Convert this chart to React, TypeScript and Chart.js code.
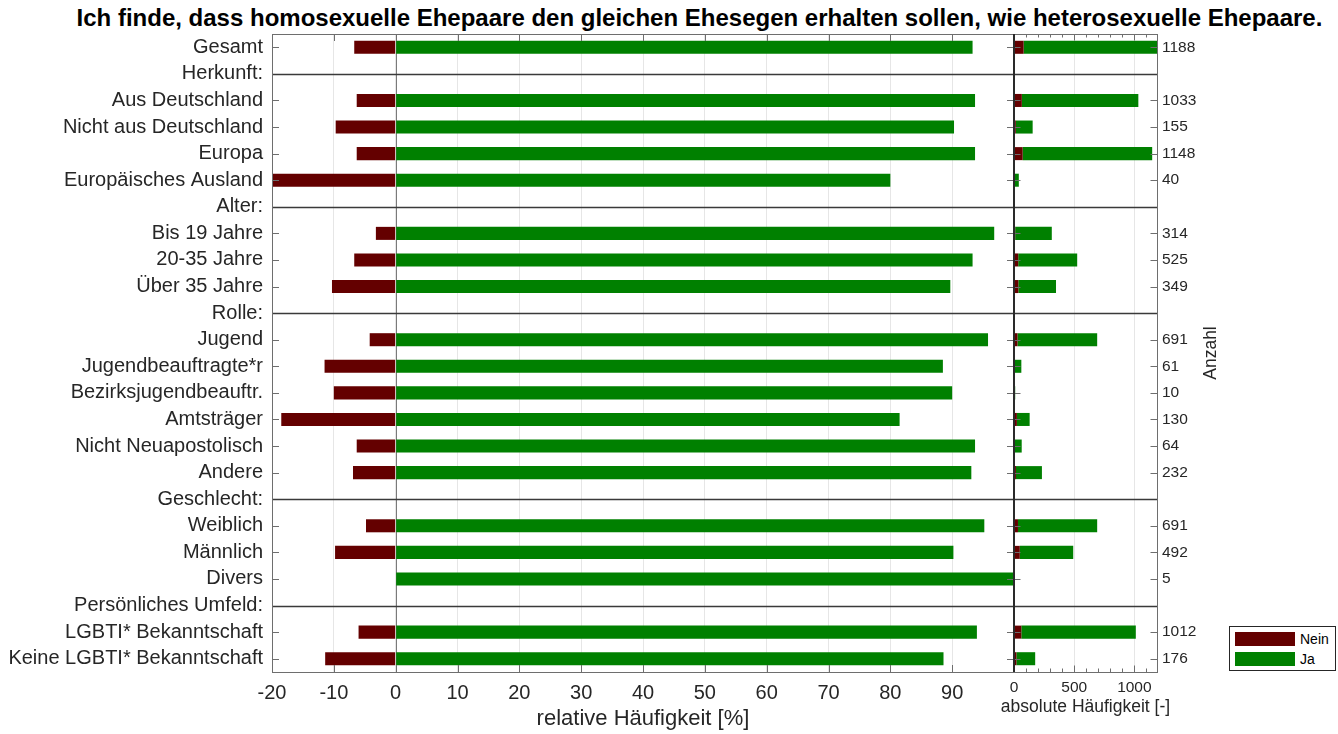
import React, { useEffect, useRef } from "react";
import { Chart, registerables } from "chart.js";

Chart.register(...registerables);

// ---- data -------------------------------------------------------------
const TITLE =
  "Ich finde, dass homosexuelle Ehepaare den gleichen Ehesegen erhalten sollen, wie heterosexuelle Ehepaare.";

const rowLabels = [
  "Gesamt",
  "Herkunft:",
  "Aus Deutschland",
  "Nicht aus Deutschland",
  "Europa",
  "Europäisches Ausland",
  "Alter:",
  "Bis 19 Jahre",
  "20-35 Jahre",
  "Über 35 Jahre",
  "Rolle:",
  "Jugend",
  "Jugendbeauftragte*r",
  "Bezirksjugendbeauftr.",
  "Amtsträger",
  "Nicht Neuapostolisch",
  "Andere",
  "Geschlecht:",
  "Weiblich",
  "Männlich",
  "Divers",
  "Persönliches Umfeld:",
  "LGBTI* Bekanntschaft",
  "Keine LGBTI* Bekanntschaft",
];

// relative shares in percent (null = group heading row)
const neinPct = [6.7, null, 6.3, 9.7, 6.3, 20.0, null, 3.2, 6.7, 10.3, null, 4.2, 11.5, 10.0, 18.5, 6.3, 6.9, null, 4.8, 9.8, 0, null, 6.0, 11.4];
const jaPct = [93.3, null, 93.7, 90.3, 93.7, 80.0, null, 96.8, 93.3, 89.7, null, 95.8, 88.5, 90.0, 81.5, 93.7, 93.1, null, 95.2, 90.2, 100, null, 94.0, 88.6];

// absolute answer counts
const neinAbs = [80, null, 65, 15, 72, 8, null, 10, 35, 36, null, 29, 7, 1, 24, 4, 16, null, 33, 48, 0, null, 61, 20];
const jaAbs = [1108, null, 968, 140, 1076, 32, null, 304, 490, 313, null, 662, 54, 9, 106, 60, 216, null, 658, 444, 5, null, 951, 156];

const countLabels = ["1188", "", "1033", "155", "1148", "40", "", "314", "525", "349", "", "691", "61", "10", "130", "64", "232", "", "691", "492", "5", "", "1012", "176"];

const relTicks = [-20, -10, 0, 10, 20, 30, 40, 50, 60, 70, 80, 90, 100];
const absTicks = [0, 500, 1000];
const absMinorTicks = [100, 200, 300, 400, 600, 700, 800, 900, 1100];

// ---- styling ----------------------------------------------------------
const FONT = '"Liberation Sans", Arial, Helvetica, sans-serif';
const TEXT = "#262626";
const NEIN_COLOR = "#640000";
const JA_COLOR = "#008000";
const GRID = "#e6e6e6";
const FRAME = "#6e6e6e";
const ZERO_LINE = "#7a7a7a";
const SEP_COLOR = "#3a3a3a";
const AXIS_DARK = "#2a2a2a";

const absMax = Math.max(
  ...neinAbs.map((n, i) => (n ?? 0) + (jaAbs[i] ?? 0))
);

const crisp = (v: number) => Math.round(v) + 0.5;

function hLine(ctx: CanvasRenderingContext2D, x1: number, x2: number, y: number) {
  ctx.beginPath();
  ctx.moveTo(x1, y);
  ctx.lineTo(x2, y);
  ctx.stroke();
}
function vLine(ctx: CanvasRenderingContext2D, x: number, y1: number, y2: number) {
  ctx.beginPath();
  ctx.moveTo(x, y1);
  ctx.lineTo(x, y2);
  ctx.stroke();
}

const isHeading = (i: number) => neinPct[i] === null;

// frame, zero line, group separators and inward tick marks of the % panel
const leftDecor = {
  id: "leftDecor",
  beforeDatasetsDraw(chart: any) {
    const { ctx, chartArea: a, scales } = chart;
    const zx = crisp(scales.x.getPixelForValue(0));
    ctx.save();
    ctx.strokeStyle = ZERO_LINE;
    ctx.lineWidth = 1;
    vLine(ctx, zx, a.top, a.bottom);
    ctx.restore();
  },
  afterDatasetsDraw(chart: any) {
    const { ctx, chartArea: a, scales } = chart;
    const { x, y } = scales;
    ctx.save();
    ctx.strokeStyle = SEP_COLOR;
    ctx.lineWidth = 1.3;
    rowLabels.forEach((_, i) => {
      if (!isHeading(i)) return;
      hLine(ctx, a.left, a.right, Math.round(y.getPixelForValue(i)) + 0.5);
    });
    ctx.strokeStyle = FRAME;
    ctx.lineWidth = 1;
    ctx.strokeRect(crisp(a.left), crisp(a.top), Math.round(a.right - a.left), Math.round(a.bottom - a.top));
    const tl = 7;
    rowLabels.forEach((_, i) => {
      if (isHeading(i)) return;
      const py = crisp(y.getPixelForValue(i));
      hLine(ctx, a.left, a.left + tl, py);
      hLine(ctx, a.right - tl, a.right, py);
    });
    relTicks.forEach((v) => {
      const px = crisp(x.getPixelForValue(v));
      vLine(ctx, px, a.top, a.top + tl);
      vLine(ctx, px, a.bottom - tl, a.bottom);
    });
    ctx.restore();
  },
};

// frame, separators, ticks and captions of the count panel
const rightDecor = {
  id: "rightDecor",
  afterDatasetsDraw(chart: any) {
    const { ctx, chartArea: a, scales } = chart;
    const { x, y } = scales;
    ctx.save();
    ctx.strokeStyle = SEP_COLOR;
    ctx.lineWidth = 1.3;
    rowLabels.forEach((_, i) => {
      if (!isHeading(i)) return;
      hLine(ctx, a.left, a.right, Math.round(y.getPixelForValue(i)) + 0.5);
    });
    ctx.strokeStyle = FRAME;
    ctx.lineWidth = 1;
    ctx.strokeRect(crisp(a.left), crisp(a.top), Math.round(a.right - a.left), Math.round(a.bottom - a.top));
    const tl = 6.5;
    rowLabels.forEach((_, i) => {
      if (isHeading(i)) return;
      const py = crisp(y.getPixelForValue(i));
      hLine(ctx, a.left, a.left + tl, py);
      hLine(ctx, a.right - tl, a.right, py);
    });
    absTicks.forEach((v) => {
      const px = crisp(x.getPixelForValue(v));
      vLine(ctx, px, a.top, a.top + tl);
      vLine(ctx, px, a.bottom - tl, a.bottom);
    });
    absMinorTicks.forEach((v) => {
      const px = crisp(x.getPixelForValue(v));
      vLine(ctx, px, a.top, a.top + 3.5);
      vLine(ctx, px, a.bottom - 3.5, a.bottom);
    });
    // dark base line at zero
    ctx.strokeStyle = AXIS_DARK;
    ctx.lineWidth = 2;
    const zx = Math.round(x.getPixelForValue(0));
    vLine(ctx, zx, a.top, a.bottom);
    ctx.restore();
  },
  afterDraw(chart: any) {
    const { ctx, chartArea: a } = chart;
    ctx.save();
    ctx.fillStyle = TEXT;
    ctx.font = `17.5px ${FONT}`;
    ctx.textAlign = "center";
    ctx.textBaseline = "middle";
    // x-axis caption, allowed to run wider than the narrow panel
    ctx.fillText("absolute Häufigkeit [-]", (a.left + a.right) / 2, a.bottom + 35);
    // y-axis caption on the right, reading upwards
    ctx.translate(a.right + 54, (a.top + a.bottom) / 2);
    ctx.rotate(-Math.PI / 2);
    ctx.fillText("Anzahl", 0, 0);
    ctx.restore();
  },
};

function leftConfig(): any {
  return {
    type: "bar",
    data: {
      labels: rowLabels,
      datasets: [
        {
          label: "Nein",
          data: neinPct.map((v) => (v === null ? null : -v)),
          backgroundColor: NEIN_COLOR,
          borderWidth: 0,
          barPercentage: 0.49,
          categoryPercentage: 1,
        },
        {
          label: "Ja",
          data: jaPct,
          backgroundColor: JA_COLOR,
          borderWidth: 0,
          barPercentage: 0.49,
          categoryPercentage: 1,
        },
      ],
    },
    options: {
      indexAxis: "y",
      responsive: false,
      animation: false,
      devicePixelRatio: 1,
      layout: { padding: { left: 0, right: 16, top: 34, bottom: 0 } },
      plugins: { legend: { display: false }, tooltip: { enabled: false } },
      scales: {
        x: {
          type: "linear",
          stacked: true,
          min: -20,
          max: 100,
          afterBuildTicks: (s: any) => {
            s.ticks = relTicks.map((value) => ({ value }));
          },
          afterFit: (s: any) => {
            s.height = 62;
          },
          grid: { color: GRID, drawTicks: false, lineWidth: 1 },
          border: { display: false },
          ticks: {
            font: { family: FONT, size: 20 },
            color: TEXT,
            padding: 9,
            maxRotation: 0,
            autoSkip: false,
            callback: (v: number) => (v === 100 ? "" : String(v)),
          },
          title: {
            display: true,
            text: "relative Häufigkeit [%]",
            font: { family: FONT, size: 22 },
            color: TEXT,
            padding: { top: 0, bottom: 2 },
          },
        },
        y: {
          type: "category",
          stacked: true,
          afterFit: (s: any) => {
            s.width = 272;
          },
          grid: { display: false, drawTicks: false },
          border: { display: false },
          ticks: {
            font: { family: FONT, size: 20 },
            color: TEXT,
            padding: 9,
            autoSkip: false,
          },
        },
      },
    },
    plugins: [leftDecor],
  };
}

function rightConfig(): any {
  return {
    type: "bar",
    data: {
      labels: rowLabels,
      datasets: [
        {
          label: "Nein",
          data: neinAbs,
          backgroundColor: NEIN_COLOR,
          borderWidth: 0,
          barPercentage: 0.49,
          categoryPercentage: 1,
        },
        {
          label: "Ja",
          data: jaAbs,
          backgroundColor: JA_COLOR,
          borderWidth: 0,
          barPercentage: 0.49,
          categoryPercentage: 1,
        },
      ],
    },
    options: {
      indexAxis: "y",
      responsive: false,
      animation: false,
      devicePixelRatio: 1,
      layout: { padding: { left: 14, right: 0, top: 34, bottom: 0 } },
      plugins: { legend: { display: false }, tooltip: { enabled: false } },
      scales: {
        x: {
          type: "linear",
          stacked: true,
          min: 0,
          max: absMax,
          afterBuildTicks: (s: any) => {
            s.ticks = absTicks.map((value) => ({ value }));
          },
          afterFit: (s: any) => {
            s.height = 62;
          },
          grid: { color: GRID, drawTicks: false, lineWidth: 1 },
          border: { display: false },
          ticks: {
            font: { family: FONT, size: 15.5 },
            color: TEXT,
            padding: 6,
            maxRotation: 0,
            autoSkip: false,
            callback: (v: number) => String(v),
          },
          title: { display: false },
        },
        y: {
          type: "category",
          position: "right",
          stacked: true,
          afterFit: (s: any) => {
            s.width = 181;
          },
          grid: { display: false, drawTicks: false },
          border: { display: false },
          ticks: {
            font: { family: FONT, size: 15.5 },
            color: TEXT,
            padding: 5,
            autoSkip: false,
            callback: (_v: any, i: number) => countLabels[i],
          },
        },
      },
    },
    plugins: [rightDecor],
  };
}

export default function App() {
  const leftRef = useRef<HTMLCanvasElement>(null);
  const rightRef = useRef<HTMLCanvasElement>(null);

  useEffect(() => {
    document.body.style.margin = "0";
    const left = new Chart(leftRef.current as HTMLCanvasElement, leftConfig());
    const right = new Chart(rightRef.current as HTMLCanvasElement, rightConfig());
    return () => {
      left.destroy();
      right.destroy();
    };
  }, []);

  const swatch = (top: number, color: string) => ({
    position: "absolute" as const,
    left: 5,
    top,
    width: 60,
    height: 14,
    background: color,
  });
  const legendText = (top: number) => ({
    position: "absolute" as const,
    left: 70,
    top,
    font: `14px ${FONT}`,
    color: "#000",
    lineHeight: "16px",
  });

  return (
    <div
      style={{
        position: "relative",
        width: 1338,
        height: 734,
        background: "#fff",
        overflow: "hidden",
      }}
    >
      <div
        style={{
          position: "absolute",
          left: 61,
          width: 1277,
          top: 4,
          textAlign: "center",
          font: `bold 24px ${FONT}`,
          color: "#000",
          whiteSpace: "nowrap",
        }}
      >
        {TITLE}
      </div>
      <canvas
        ref={leftRef}
        width={1030}
        height={734}
        style={{ position: "absolute", left: 0, top: 0 }}
      />
      <canvas
        ref={rightRef}
        width={338}
        height={734}
        style={{ position: "absolute", left: 1000, top: 0 }}
      />
      <div
        style={{
          position: "absolute",
          left: 1229,
          top: 626,
          width: 105,
          height: 43,
          border: "1px solid #262626",
          background: "#fff",
        }}
      >
        <div style={swatch(5, NEIN_COLOR)} />
        <div style={legendText(4)}>Nein</div>
        <div style={swatch(25, JA_COLOR)} />
        <div style={legendText(24)}>Ja</div>
      </div>
    </div>
  );
}
